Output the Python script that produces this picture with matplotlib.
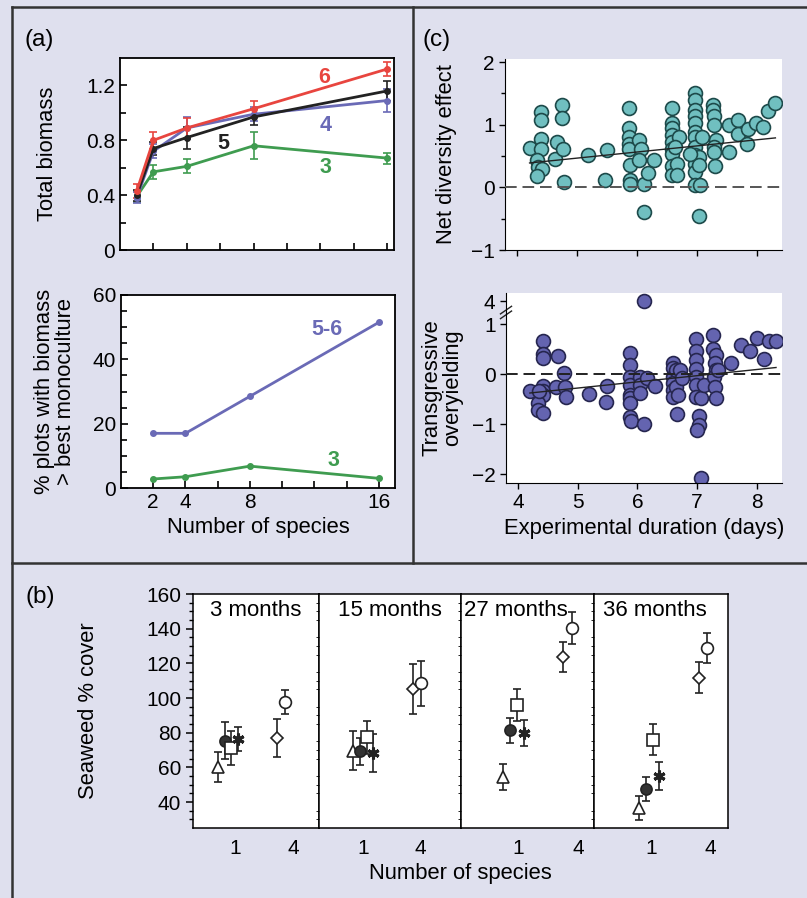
import numpy as np
import matplotlib
matplotlib.use("Agg")
import matplotlib.pyplot as plt
from matplotlib.lines import Line2D

plt.rcParams["font.family"] = ["Liberation Sans", "DejaVu Sans"]

# ---- panel (a): total biomass vs number of species
species = [1, 2, 4, 8, 16]
biomass_6 = [0.43, 0.80, 0.89, 1.03, 1.32]
err_6 = [0.05, 0.06, 0.07, 0.06, 0.05]
biomass_5 = [0.40, 0.74, 0.82, 0.97, 1.16]
err_5 = [0.04, 0.05, 0.08, 0.06, 0.07]
biomass_4 = [0.38, 0.72, 0.89, 0.99, 1.09]
err_4 = [0.04, 0.05, 0.08, 0.05, 0.085]
biomass_3 = [0.39, 0.57, 0.61, 0.76, 0.67]
err_3 = [0.04, 0.05, 0.05, 0.10, 0.04]

# % plots above best monoculture
species_pct = [2, 4, 8, 16]
pct_56 = [17.0, 17.0, 28.5, 51.5]
pct_3 = [2.8, 3.5, 6.8, 3.0]

# ---- panel (c): net diversity effect vs experimental duration
dur_net = [4.21, 4.40, 4.40, 4.40, 4.40, 4.33, 4.35, 4.41, 4.34,
           4.63, 4.66, 4.75, 4.75, 4.77, 4.78, 5.19, 5.47, 5.50,
           5.86, 5.86, 5.86, 5.86, 5.86, 5.88, 5.88, 5.88,
           6.03, 6.06, 6.04, 6.11, 6.11, 6.18, 6.29,
           6.58, 6.58, 6.58, 6.58, 6.58, 6.58, 6.58, 6.58, 6.58,
           6.67, 6.67, 6.71, 6.64,
           6.97, 6.97, 6.97, 6.97, 6.97, 6.97, 6.97, 6.97, 6.97, 6.97, 6.97,
           6.97, 7.06, 7.04, 7.03, 7.03, 7.08, 6.89,
           7.27, 7.27, 7.29, 7.29, 7.32, 7.29, 7.29, 7.31,
           7.53, 7.53, 7.69, 7.69, 7.86, 7.84, 7.99, 8.10, 8.19, 8.31]
net_effect = [0.63, 1.21, 1.08, 0.77, 0.62, 0.44, 0.32, 0.29, 0.18,
              0.46, 0.73, 1.31, 1.10, 0.61, 0.09, 0.52, 0.11, 0.60,
              1.26, 0.95, 0.81, 0.70, 0.62, 0.35, 0.11, 0.05,
              0.76, 0.62, 0.43, 0.05, -0.39, 0.23, 0.44,
              1.27, 1.03, 0.95, 0.84, 0.73, 0.62, 0.54, 0.34, 0.19,
              0.38, 0.19, 0.80, 0.65,
              1.51, 1.39, 1.24, 1.14, 1.03, 0.89, 0.81, 0.65, 0.51, 0.38, 0.24,
              0.03, 0.03, -0.45, 0.49, 0.35, 0.81, 0.54,
              1.32, 1.24, 1.14, 1.00, 0.76, 0.65, 0.57, 0.34,
              1.00, 0.57, 1.08, 0.86, 0.93, 0.70, 1.03, 0.97, 1.22, 1.35]
fit_dur = [4.21, 8.31]
fit_net = [0.39, 0.79]

# transgressive overyielding vs experimental duration
dur_trans = [4.20, 4.42, 4.42, 4.42, 4.42, 4.42, 4.42, 4.34, 4.34, 4.42, 4.36,
             4.67, 4.64, 4.77, 4.78, 4.80, 5.19, 5.49, 5.48,
             5.87, 5.87, 5.87, 5.87, 5.87, 5.87, 5.87, 5.87, 5.90,
             6.04, 6.04, 6.04, 6.11, 6.16, 6.29, 6.11,
             6.60, 6.60, 6.60, 6.60, 6.60, 6.60, 6.65, 6.65, 6.68, 6.72, 6.74,
             6.67,
             6.98, 6.98, 6.98, 6.98, 6.98, 6.98, 6.98, 7.03, 7.03, 6.99, 7.06,
             7.07, 7.11,
             7.27, 7.27, 7.32, 7.30, 7.31, 7.28, 7.30, 7.31, 7.35,
             7.56, 7.73, 7.88, 8.00, 8.12, 8.21, 8.32]
trans_over = [-0.33, 0.67, 0.41, 0.32, -0.23, -0.33, -0.41, -0.58, -0.71,
              -0.78, -0.33,
              0.37, -0.25, 0.02, -0.25, -0.45, -0.40, -0.23, -0.55,
              0.43, 0.19, -0.05, -0.21, -0.41, -0.48, -0.58, -0.85, -0.93,
              -0.05, -0.21, -0.38, -1.00, -0.08, -0.23, 4.0,
              0.22, 0.12, -0.05, -0.18, -0.31, -0.45, 0.09, -0.25, -0.41, 0.09,
              -0.08, -0.79,
              0.71, 0.47, 0.29, 0.10, -0.05, -0.21, -0.45, -0.83, -1.01, -1.11,
              -2.08, -0.48, -0.21,
              0.79, 0.51, 0.39, 0.22, 0.09, -0.05, -0.26, -0.48, 0.09,
              0.23, 0.59, 0.47, 0.72, 0.30, 0.67, 0.67]
fit_trans_dur = [4.20, 8.32]
fit_trans = [-0.38, 0.13]

# ---- panel (b): seaweed % cover, four sampling dates
months = ["3 months", "15 months", "27 months", "36 months"]
richness_ticks = [1, 4]
triangle = [60.0, 69.6, 54.7, 36.7]
triangle_err = [8.7, 11.4, 7.5, 7.0]
dot = [75.4, 69.2, 81.3, 47.4]
dot_err = [10.7, 7.7, 7.0, 7.0]
square = [71.1, 77.3, 95.8, 75.9]
square_err = [9.7, 9.4, 9.2, 9.0]
star = [76.3, 68.2, 79.8, 55.1]
star_err = [6.7, 11.0, 7.7, 8.0]
diamond = [76.9, 105.3, 123.7, 111.7]
diamond_err = [10.7, 14.5, 8.7, 9.0]
ring = [97.6, 108.4, 140.3, 129.0]
ring_err = [6.9, 12.8, 9.2, 8.6]

W, H = 807, 898
BG = "#dfe0ee"
RED, BLACK, BLUE, GREEN = "#e8453f", "#222222", "#6a6ab6", "#3f9c50"
TICK_FS, LAB_FS = 15, 15.8


def rect(l, t, r, b):
    return [l / W, 1 - b / H, (r - l) / W, (b - t) / H]


fig = plt.figure(figsize=(W / 100, H / 100), dpi=100)
fig.patch.set_facecolor(BG)

# frame lines between panels
for xs, ys in [((12, 807), (7, 7)), ((12, 12), (7, 898)),
               ((413, 413), (7, 563)), ((12, 807), (563, 563))]:
    fig.add_artist(Line2D([x / W for x in xs], [1 - y / H for y in ys],
                          transform=fig.transFigure, color="#333333", lw=1.8))

# ---------------- (a) top
ax = fig.add_axes(rect(120, 58, 394, 250))
for y, e, c in [(biomass_3, err_3, GREEN), (biomass_4, err_4, BLUE),
                (biomass_5, err_5, BLACK), (biomass_6, err_6, RED)]:
    ax.errorbar(species, y, yerr=e, color=c, lw=2, marker="o", ms=4,
                capsize=3, elinewidth=1.2, capthick=1.2)
ax.set_xlim(0, 16.4)
ax.set_ylim(0, 1.4)
ax.set_xticks(range(2, 17, 2))
ax.set_xticklabels([])
ax.set_yticks([0, 0.4, 0.8, 1.2])
ax.set_yticklabels(["0", "0.4", "0.8", "1.2"])
ax.set_yticks([0.2, 0.6, 1.0], minor=True)
ax.tick_params(direction="in", labelsize=TICK_FS, length=5, width=1.2)
ax.tick_params(which="minor", direction="in", length=4, width=1.2)
ax.set_ylabel("Total biomass", fontsize=LAB_FS, labelpad=20)
for t, x, y, c in [("6", 12.2, 1.26, RED), ("4", 12.3, 0.91, BLUE),
                   ("5", 6.2, 0.78, BLACK), ("3", 12.3, 0.60, GREEN)]:
    ax.text(x, y, t, color=c, fontsize=15.5, fontweight="bold",
            ha="center", va="center")
for s in ax.spines.values():
    s.set_linewidth(1.3)

# ---------------- (a) bottom
ax = fig.add_axes(rect(121, 295, 395, 488))
ax.plot(species_pct, pct_56, color=BLUE, lw=2, marker="o", ms=4)
ax.plot(species_pct, pct_3, color=GREEN, lw=2, marker="o", ms=4)
ax.set_xlim(0, 17)
ax.set_ylim(0, 60)
ax.set_xticks(range(2, 17, 2))
ax.set_xticklabels(["2", "4", "", "8", "", "", "", "16"])
ax.set_yticks([0, 20, 40, 60])
ax.set_yticks(range(5, 60, 5), minor=True)
ax.tick_params(direction="in", labelsize=TICK_FS, length=5, width=1.2)
ax.tick_params(which="minor", direction="in", length=4, width=1.2)
ax.set_ylabel("% plots with biomass\n> best monoculture", fontsize=LAB_FS,
              labelpad=12, linespacing=1.0)
ax.set_xlabel("Number of species", fontsize=LAB_FS, labelpad=4)
ax.text(12.8, 49.4, "5-6", color=BLUE, fontsize=15.5, fontweight="bold",
        ha="center", va="center")
ax.text(13.2, 8.7, "3", color=GREEN, fontsize=15.5, fontweight="bold",
        ha="center", va="center")
for s in ax.spines.values():
    s.set_linewidth(1.3)

# ---------------- (c) top
ax = fig.add_axes(rect(505, 59, 782, 250))
ax.scatter(dur_net, net_effect, s=100, color="#70bfc0", edgecolor="#1d4a4a",
           lw=1.2, zorder=2)
ax.plot(fit_dur, fit_net, color="#222222", lw=1, zorder=3)
ax.axhline(0, color="#555555", lw=1.4, ls=(0, (6, 3)), zorder=3)
ax.set_xlim(3.8, 8.42)
ax.set_ylim(-1, 2.05)
ax.set_xticks([4, 5, 6, 7, 8])
ax.set_xticklabels([])
ax.set_yticks([-1, 0, 1, 2])
ax.set_yticklabels(["\u22121", "0", "1", "2"])
ax.set_yticks([-0.5, 0.5, 1.5], minor=True)
ax.tick_params(labelsize=TICK_FS, length=4, width=1)
ax.tick_params(which="minor", length=3, width=1)
ax.spines[["top", "right"]].set_visible(False)
ax.set_ylabel("Net diversity effect", fontsize=LAB_FS, labelpad=10)

# ---------------- (c) bottom, broken y axis above 1.2


def fwd(v):
    v = np.asarray(v, float)
    return np.where(v <= 1.2, v, 1.2 + (v - 1.2) * 0.09)


def inv(u):
    u = np.asarray(u, float)
    return np.where(u <= 1.2, u, 1.2 + (u - 1.2) / 0.09)


ax = fig.add_axes(rect(506, 293, 782, 483))
ax.set_yscale("function", functions=(fwd, inv))
ax.scatter(dur_trans, trans_over, s=100, color="#6464b0", edgecolor="#26264f",
           lw=1.2, zorder=2)
ax.plot(fit_trans_dur, fit_trans, color="#222222", lw=1, zorder=3)
ax.axhline(0, color="#222222", lw=1.4, ls=(0, (6, 3)), zorder=3)
ax.set_xlim(3.8, 8.42)
ax.set_ylim(-2.18, 5.87)
ax.set_xticks([4, 5, 6, 7, 8])
ax.set_yticks([-2, -1, 0, 1, 4])
ax.set_yticklabels(["\u22122", "\u22121", "0", "1", "4"])
ax.yaxis.set_minor_locator(matplotlib.ticker.NullLocator())
ax.tick_params(labelsize=TICK_FS, length=4, width=1)
ax.spines[["top", "right"]].set_visible(False)
for yb in (0.885, 0.91):
    ax.plot([-0.02, 0.02], [yb - 0.02, yb + 0.02], transform=ax.transAxes,
            color="#222222", lw=1, clip_on=False)
ax.set_ylabel("Transgressive\noveryielding", fontsize=LAB_FS, labelpad=6,
              linespacing=1.0)
ax.set_xlabel("Experimental duration (days)", fontsize=LAB_FS, labelpad=4)

# ---------------- (b)
edges = [193, 319, 461, 594, 728]
xlims = [(-1.17, 5.35), (-1.32, 6.15), (-1.85, 4.8), (-1.9, 4.91)]
mono_center = [0.64, 1.01, 0.785, 0.90]
poly_center = [3.375, 3.86, 3.48, 3.635]
title_x = [0.5, 0.5, 0.41, 0.455]
mono_spread = [-0.52, -0.18, 0.18, 0.52]
poly_spread = [-0.21, 0.21]
mono = [(triangle, triangle_err, dict(marker="^", mfc="white", ms=8, mew=1.2)),
        (dot, dot_err, dict(marker="o", mfc="#333333", ms=8, mew=1.2)),
        (square, square_err, dict(marker="s", mfc="white", ms=8, mew=1.2)),
        (star, star_err, dict(marker=(6, 2, 0), mfc="#333333", ms=8.5,
                              mew=2.2))]
poly = [(diamond, diamond_err, dict(marker="D", mfc="white", ms=6.5, mew=1.2)),
        (ring, ring_err, dict(marker="o", mfc="white", ms=8.5, mew=1.2))]

axes_b = []
for i in range(4):
    ax = fig.add_axes(rect(edges[i], 594, edges[i + 1], 828),
                      sharey=axes_b[0] if axes_b else None)
    axes_b.append(ax)
    groups = ([(mono_center[i] + dx, m) for dx, m in zip(mono_spread, mono)] +
              [(poly_center[i] + dx, p) for dx, p in zip(poly_spread, poly)])
    for x, (vals, errs, st) in groups:
        ax.errorbar(x, vals[i], yerr=errs[i], fmt="none", ecolor="#222222",
                    elinewidth=1.2, capsize=3, capthick=1.2, zorder=2)
        ax.plot(x, vals[i], ls="none", mec="#222222", zorder=3, **st)
    ax.set_xlim(*xlims[i])
    ax.set_xticks(richness_ticks)
    ax.tick_params(axis="x", length=0, labelsize=TICK_FS, pad=8)
    ax.text(title_x[i], 0.93, months[i], transform=ax.transAxes,
            fontsize=16, ha="center", va="center")
    for s in ax.spines.values():
        s.set_linewidth(1.1)
    if i > 0:
        ax.tick_params(axis="y", left=False, labelleft=False)

ax = axes_b[0]
ax.set_ylim(25, 160)
ax.set_yticks(range(40, 161, 20))
ax.set_yticks(range(30, 161, 5), minor=True)
ax.tick_params(axis="y", labelsize=TICK_FS, length=5, width=1.1)
ax.tick_params(axis="y", which="minor", length=3, width=1)
ax.set_ylabel("Seaweed % cover", fontsize=LAB_FS, labelpad=34)
fig.text(460 / W, 1 - 873 / H, "Number of species", fontsize=LAB_FS,
         ha="center", va="center")

# panel letters
for t, x, y in [("(a)", 25, 40), ("(c)", 423, 40), ("(b)", 26, 597)]:
    fig.text(x / W, 1 - y / H, t, fontsize=17.5, ha="left", va="center")

fig.savefig("out.png", dpi=100, facecolor=BG)
